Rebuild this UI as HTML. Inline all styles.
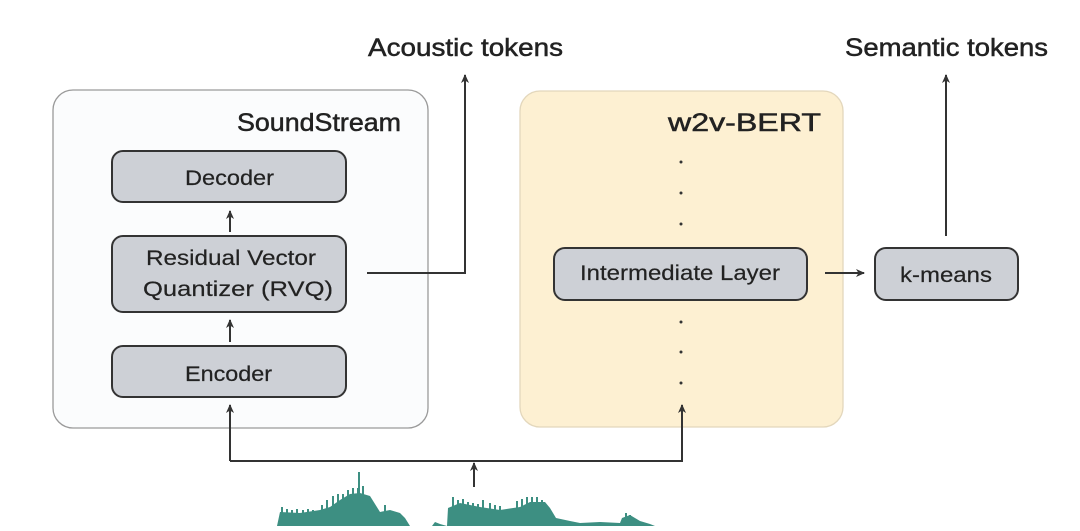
<!DOCTYPE html>
<html><head><meta charset="utf-8"><style>
body{margin:0;width:1080px;height:526px;background:#fff;overflow:hidden;font-family:"Liberation Sans",sans-serif;}
</style></head><body>
<svg width="1080" height="526" viewBox="0 0 1080 526" xmlns="http://www.w3.org/2000/svg">
<defs>
<marker id="ah" markerWidth="10" markerHeight="10" refX="8" refY="5" orient="auto" markerUnits="userSpaceOnUse">
<path d="M0,1 L9,5 L0,9 L2.5,5 Z" fill="#333"/></marker>
</defs>
<g font-family="Liberation Sans, sans-serif" fill="#222">
<rect x="53" y="90" width="375" height="338" rx="20" fill="#fbfcfd" stroke="#9a9a9a" stroke-width="1.3"/>
<rect x="520" y="91" width="323" height="336" rx="20" fill="#fdf0d2" stroke="#e3d7bc" stroke-width="1.3"/>
<g stroke="#222" stroke-width="0.5">
<text x="237" y="131" font-size="25" textLength="164" lengthAdjust="spacingAndGlyphs">SoundStream</text>
<text x="668" y="131" font-size="25" textLength="153" lengthAdjust="spacingAndGlyphs">w2v-BERT</text>
<text x="368" y="56" font-size="25" textLength="195" lengthAdjust="spacingAndGlyphs">Acoustic tokens</text>
<text x="845" y="56" font-size="25" textLength="203" lengthAdjust="spacingAndGlyphs">Semantic tokens</text>
</g>
<g stroke="#333" stroke-width="2" fill="#cdd0d6">
<rect x="112" y="151" width="234" height="51" rx="11"/>
<rect x="112" y="236" width="234" height="76" rx="11"/>
<rect x="112" y="346" width="234" height="51" rx="11"/>
<rect x="554" y="248" width="253" height="52" rx="11"/>
<rect x="875" y="248" width="143" height="52" rx="11"/>
</g>
<g font-size="21" fill="#222" stroke="#222" stroke-width="0.2" lengthAdjust="spacingAndGlyphs">
<text x="185" y="185" textLength="89" lengthAdjust="spacingAndGlyphs">Decoder</text>
<text x="146" y="265" textLength="170" lengthAdjust="spacingAndGlyphs">Residual Vector</text>
<text x="143" y="296" textLength="190" lengthAdjust="spacingAndGlyphs">Quantizer (RVQ)</text>
<text x="185" y="381" textLength="87" lengthAdjust="spacingAndGlyphs">Encoder</text>
<text x="580" y="280" textLength="200" lengthAdjust="spacingAndGlyphs">Intermediate Layer</text>
<text x="900" y="282" textLength="92" lengthAdjust="spacingAndGlyphs">k-means</text>
</g>
<g fill="#333">
<circle cx="681" cy="162" r="1.5"/><circle cx="681" cy="193" r="1.5"/><circle cx="681" cy="224" r="1.5"/>
<circle cx="681" cy="322" r="1.5"/><circle cx="681" cy="352" r="1.5"/><circle cx="681" cy="383" r="1.5"/>
</g>
<g stroke="#333" stroke-width="2" fill="none">
<line x1="230" y1="232" x2="230" y2="211" marker-end="url(#ah)"/>
<line x1="230" y1="342" x2="230" y2="320" marker-end="url(#ah)"/>
<polyline points="367,273 465,273 465,75" marker-end="url(#ah)"/>
<line x1="825" y1="273" x2="864" y2="273" marker-end="url(#ah)"/>
<line x1="946" y1="236" x2="946" y2="75" marker-end="url(#ah)"/>
<polyline points="230,461 682,461 682,405" marker-end="url(#ah)"/>
<line x1="230" y1="461" x2="230" y2="405" marker-end="url(#ah)"/>
<line x1="474" y1="487" x2="474" y2="463" marker-end="url(#ah)"/>
</g>
<polygon fill="#3d8f82" points="277,526 280,512 300,513 320,510 330,507 340,500 350,494 360,493 370,496 375,504 380,512 390,510 400,513 405,518 410,526 432,526 435,522 440,524 447,526 448,508 460,503 480,507 500,510 520,507 530,502 545,502 550,508 556,518 570,521 580,523 600,522 620,523 622,518 630,515 640,521 650,524 655,526"/>
<g stroke="#3d8f82" stroke-width="2">
<line x1="282" y1="526" x2="282" y2="507"/><line x1="287" y1="526" x2="287" y2="509"/><line x1="292" y1="526" x2="292" y2="510"/><line x1="297" y1="526" x2="297" y2="509"/>
<line x1="303" y1="526" x2="303" y2="510"/><line x1="308" y1="526" x2="308" y2="509"/><line x1="313" y1="526" x2="313" y2="510"/><line x1="322" y1="526" x2="322" y2="505"/><line x1="327" y1="526" x2="327" y2="500"/>
<line x1="333" y1="526" x2="333" y2="496"/><line x1="338" y1="526" x2="338" y2="494"/><line x1="343" y1="526" x2="343" y2="494"/>
<line x1="348" y1="526" x2="348" y2="490"/><line x1="353" y1="526" x2="353" y2="488"/><line x1="358" y1="526" x2="358" y2="488"/>
<line x1="359" y1="526" x2="359" y2="472"/><line x1="363" y1="526" x2="363" y2="486"/><line x1="371" y1="526" x2="371" y2="506"/>
<line x1="385" y1="526" x2="385" y2="505"/><line x1="453" y1="526" x2="453" y2="497"/><line x1="458" y1="526" x2="458" y2="500"/>
<line x1="463" y1="526" x2="463" y2="499"/><line x1="468" y1="526" x2="468" y2="502"/><line x1="473" y1="526" x2="473" y2="503"/><line x1="478" y1="526" x2="478" y2="504"/><line x1="483" y1="526" x2="483" y2="500"/>
<line x1="490" y1="526" x2="490" y2="503"/><line x1="495" y1="526" x2="495" y2="505"/><line x1="500" y1="526" x2="500" y2="506"/><line x1="517" y1="526" x2="517" y2="501"/><line x1="522" y1="526" x2="522" y2="499"/><line x1="527" y1="526" x2="527" y2="497"/>
<line x1="532" y1="526" x2="532" y2="497"/><line x1="537" y1="526" x2="537" y2="497"/><line x1="542" y1="526" x2="542" y2="500"/>
<line x1="626" y1="526" x2="626" y2="513"/><line x1="630" y1="526" x2="630" y2="515"/>
</g>
</g>
</svg>
</body></html>
